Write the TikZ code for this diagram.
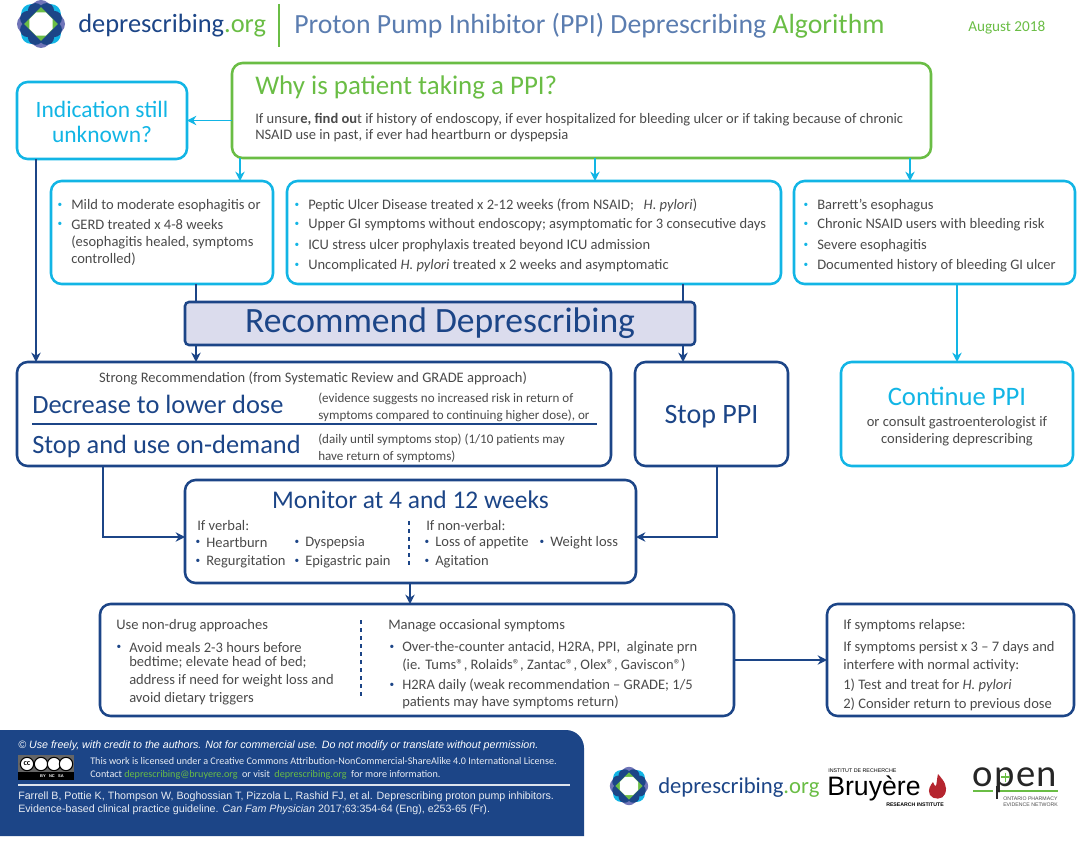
\documentclass[tikz,border=0pt]{standalone}
\usepackage{fontspec}
\setmainfont{Carlito}
\newfontfamily\reffont{Liberation Sans}
\usepackage{xcolor}
\usetikzlibrary{
    arrows.meta,
    positioning
}
\definecolor{navy}{HTML}{1C4587}
\definecolor{sky}{HTML}{12B5E5}
\definecolor{leaf}{HTML}{6ABD45}
\definecolor{ink}{HTML}{4A4A4A}
\definecolor{slate}{HTML}{5B7DB0}
\definecolor{lilac}{HTML}{6F74B8}
\definecolor{flame}{HTML}{B5252F}
\tikzset{boxsize/.style 2 args={minimum width=#1*0.75pt, minimum height=#2*0.75pt}}
\tikzstyle{box} = [
    draw,
    rounded corners=8pt,
    outer sep=0pt,
    inner sep=0pt,
    line width=1.9pt
]
\tikzstyle{skybox} = [box, draw=sky]
\tikzstyle{navybox} = [box, draw=navy]
\tikzstyle{leafbox} = [box, draw=leaf]
\tikzstyle{txt} = [
    anchor=west,
    inner sep=0pt,
    yshift=-1.2pt,
    text=ink,
    font=\fontsize{10.9}{12}\selectfont
]
\tikzstyle{txtc} = [txt, anchor=center]
\tikzstyle{txts} = [txt, font=\fontsize{9.8}{12}\selectfont]
\tikzstyle{dotsky} = [txtc, text=sky, font=\fontsize{7}{8}\selectfont]
\tikzstyle{dotnavy} = [txtc, text=navy, font=\fontsize{7}{8}\selectfont]
\tikzstyle{bigtxt} = [txt, text=navy, font=\fontsize{19.8}{24}\selectfont]
\tikzstyle{arrowsky} = [
    line width=1pt,
    draw=sky,
    ->,
    >={Stealth[length=7pt,width=7pt]}
]
\tikzstyle{arrownavy} = [arrowsky, draw=navy]
\tikzstyle{plainnavy} = [line width=1pt, draw=navy]
\newcommand{\logomark}[3]{%
\begin{scope}[shift={(#1,#2)},x=#3*0.75pt,y=#3*0.75pt]
\foreach \a in {45,135,225,315} \fill[sky] (\a:14) circle (10);
\foreach \a in {0,90,180,270} \fill[lilac] (\a:14) circle (10);
\foreach \a in {22.5,67.5,...,360} \fill[navy] (\a:14.5) circle (7.5);
\fill[leaf, rotate=45] (-12,-12) rectangle (12,12);
\fill[white] (22.5:12.5) -- (67.5:12.5) -- (112.5:12.5) -- (157.5:12.5) -- (202.5:12.5) -- (247.5:12.5) -- (292.5:12.5) -- (337.5:12.5) -- cycle;
\end{scope}}
\begin{document}
\begin{tikzpicture}[x=0.75pt,y=-0.75pt]
\useasboundingbox (0,0) rectangle (1090,845);
% header
\logomark{41}{24}{1}
\node[txt, text=navy, font=\fontsize{19.8}{24}\selectfont] (brand) at (78,24) {deprescribing\textcolor{leaf}{.org}};
\draw[line width=1pt, leaf] (279,4) -- (279,47);
\node[txt, text=slate, font=\fontsize{20.8}{24}\selectfont] (title) at (294,24) {Proton Pump Inhibitor (PPI) Deprescribing \textcolor{leaf}{Algorithm}};
\node[txt, text=leaf, font=\fontsize{11.4}{12}\selectfont] (date) at (968,26) {August 2018};
% boxes
\node[leafbox, boxsize={699}{95}] (why) at (581.5,110.5) {};
\node[skybox, boxsize={170}{77}] (unknown) at (102,120.5) {};
\node[skybox, boxsize={222}{103}] (mild) at (162,232.5) {};
\node[skybox, boxsize={494}{103}] (ulcer) at (534,232.5) {};
\node[skybox, boxsize={281}{103}] (barrett) at (934.5,232.5) {};
\node[navybox, fill=lilac!25, rounded corners=3pt, boxsize={510}{43}] (recommend) at (440,323.5) {};
\node[navybox, boxsize={594}{104}] (strong) at (314,414) {};
\node[navybox, boxsize={153}{104}] (stop) at (711.5,414) {};
\node[skybox, boxsize={232}{104}] (continue) at (957,414) {};
\node[navybox, boxsize={451}{103}] (monitor) at (410.5,531.5) {};
\node[navybox, boxsize={634}{112}] (manage) at (417,660) {};
\node[navybox, boxsize={247}{112}] (relapse) at (950.5,660) {};
% drop points
\coordinate (dropa) at (240,170);
\coordinate (dropb) at (595,170);
\coordinate (dropc) at (910,170);
\coordinate (dropd) at (36,170);
\coordinate (drope) at (196,300);
\coordinate (dropf) at (683,300);
\coordinate (dropg) at (103,470);
\coordinate (droph) at (717,470);
\coordinate (dropi) at (410,590);
\coordinate (rowm) at (160,537);
% connectors
\draw[arrowsky] (why.west |- unknown.west) -- (unknown.east);
\draw[arrowsky] (why.south -| dropa) -- (mild.north -| dropa);
\draw[arrowsky] (why.south -| dropb) -- (ulcer.north -| dropb);
\draw[arrowsky] (why.south -| dropc) -- (barrett.north -| dropc);
\draw[arrownavy] (unknown.south -| dropd) -- (strong.north -| dropd);
\draw[plainnavy] (mild.south -| drope) -- (recommend.north -| drope);
\draw[plainnavy] (ulcer.south -| dropf) -- (recommend.north -| dropf);
\draw[arrownavy] (recommend.south -| drope) -- (strong.north -| drope);
\draw[arrownavy] (recommend.south -| dropf) -- (stop.north -| dropf);
\draw[arrowsky] (barrett.south -| continue.north) -- (continue.north);
\draw[arrownavy] (strong.south -| dropg) |- (monitor.west |- rowm);
\draw[arrownavy] (stop.south -| droph) |- (monitor.east |- rowm);
\draw[arrownavy] (monitor.south -| dropi) -- (manage.north -| dropi);
\draw[arrownavy] (manage.east) -- (relapse.west);
% why
\node[txt, text=leaf, font=\fontsize{20.2}{24}\selectfont] (whyhead) at (255,86) {Why is patient taking a PPI?};
\node[txt] (whya) at (255,118) {If unsur\textbf{e, find ou}t if history of endoscopy, if ever hospitalized for bleeding ulcer or if taking because of chronic};
\node[txt] (whyb) at (255,134) {NSAID use in past, if ever had heartburn or dyspepsia};
\node[txtc, text=sky, font=\fontsize{17.6}{22}\selectfont] (unknowna) at (102,108) {Indication still};
\node[txtc, text=sky, font=\fontsize{17.6}{22}\selectfont] (unknownb) at (102,133) {unknown?};
% mild
\node[dotsky] (dota) at (60,204) {•};
\node[txt] (milda) at (71,204) {Mild to moderate esophagitis or};
\node[dotsky] (dotb) at (60,223) {•};
\node[txt] (mildb) at (71,223) {GERD treated x 4-8 weeks};
\node[txt] (mildc) at (71,241) {(esophagitis healed, symptoms};
\node[txt] (mildd) at (71,258) {controlled)};
% ulcer
\foreach \n/\ya in {c/204,d/223,e/244,f/264} \node[dotsky] (dot\n) at (297,\ya) {•};
\node[txt] (ulcera) at (308,204) {Peptic Ulcer Disease treated x 2-12 weeks (from NSAID; \ \ \textit{H. pylori})};
\node[txt] (ulcerb) at (308,223) {Upper GI symptoms without endoscopy; asymptomatic for 3 consecutive days};
\node[txt] (ulcerc) at (308,244) {ICU stress ulcer prophylaxis treated beyond ICU admission};
\node[txt] (ulcerd) at (308,264) {Uncomplicated \textit{H. pylori} treated x 2 weeks and asymptomatic};
% barrett
\foreach \n/\ya in {g/204,h/223,i/244,j/264} \node[dotsky] (dot\n) at (806,\ya) {•};
\node[txt] (barretta) at (817,204) {Barrett’s esophagus};
\node[txt] (barrettb) at (817,223) {Chronic NSAID users with bleeding risk};
\node[txt] (barrettc) at (817,244) {Severe esophagitis};
\node[txt] (barrettd) at (817,264) {Documented history of bleeding GI ulcer};
% recommend
\node[txtc, text=navy, font=\fontsize{26.7}{30}\selectfont] (recommendtxt) at (440,322) {Recommend Deprescribing};
% strong
\node[txtc] (stronghead) at (313,377) {Strong Recommendation (from Systematic Review and GRADE approach)};
\node[bigtxt] (decrease) at (32,403) {Decrease to lower dose};
\node[txts] (decreasea) at (318,397) {(evidence suggests no increased risk in return of};
\node[txts] (decreaseb) at (318,414) {symptoms compared to continuing higher dose), or};
\draw[plainnavy] (32,424) -- (597,424);
\node[bigtxt] (ondemand) at (32,445) {Stop and use on-demand};
\node[txts] (ondemanda) at (318,438) {(daily until symptoms stop) (1/10 patients may};
\node[txts] (ondemandb) at (318,455) {have return of symptoms)};
\node[txtc, text=navy, font=\fontsize{21}{25}\selectfont] (stoptxt) at (711.5,415) {Stop PPI};
% continue
\node[txtc, text=sky, font=\fontsize{20}{24}\selectfont] (continuetxt) at (957,395) {Continue PPI};
\node[txtc] (continuea) at (957,421) {or consult gastroenterologist if};
\node[txtc] (continueb) at (957,438) {considering deprescribing};
% monitor
\node[txtc, text=navy, font=\fontsize{19.1}{24}\selectfont] (monitortxt) at (410.5,498) {Monitor at 4 and 12 weeks};
\node[txt] (verbal) at (197,524) {If verbal:};
\node[dotnavy] (dotk) at (198,541) {•};
\node[txt] (heartburn) at (206,541) {Heartburn};
\node[dotnavy] (dotl) at (297,541) {•};
\node[txt] (dyspepsia) at (305,541) {Dyspepsia};
\node[dotnavy] (dotm) at (198,560) {•};
\node[txt] (regurg) at (206,560) {Regurgitation};
\node[dotnavy] (dotn) at (297,560) {•};
\node[txt] (epigastric) at (305,560) {Epigastric pain};
\draw[plainnavy, dashed] (409,521) -- (409,568);
\node[txt] (nonverbal) at (426,524) {If non-verbal:};
\node[dotnavy] (doto) at (427,541) {•};
\node[txt] (appetite) at (435,541) {Loss of appetite};
\node[dotnavy] (dotp) at (542,541) {•};
\node[txt] (weight) at (550,541) {Weight loss};
\node[dotnavy] (dotq) at (427,560) {•};
\node[txt] (agitation) at (435,560) {Agitation};
% manage
\node[txt] (nondrug) at (116,624) {Use non-drug approaches};
\node[dotnavy] (dotr) at (119,646) {•};
\node[txt] (nondruga) at (129,646) {Avoid meals 2-3 hours before};
\node[txt] (nondrugb) at (129,661) {bedtime; elevate head of bed;};
\node[txt] (nondrugc) at (129,679) {address if need for weight loss and};
\node[txt] (nondrugd) at (129,697) {avoid dietary triggers};
\draw[plainnavy, dashed] (361,620) -- (361,698);
\node[txt] (occasional) at (388,624) {Manage occasional symptoms};
\node[dotnavy] (dots) at (392,646) {•};
\node[txt] (occasionala) at (402,646) {Over-the-counter antacid, H2RA, PPI, \ alginate prn};
\node[txt] (occasionalb) at (402,664) {(ie. Tums®, Rolaids®, Zantac®, Olex®, Gaviscon®)};
\node[dotnavy] (dott) at (392,684) {•};
\node[txt] (occasionalc) at (402,684) {H2RA daily (weak recommendation – GRADE; 1/5};
\node[txt] (occasionald) at (402,701) {patients may have symptoms return)};
% relapse
\node[txt] (relapsehead) at (843,624) {If symptoms relapse:};
\node[txt] (relapsea) at (843,646) {If symptoms persist x 3 – 7 days and};
\node[txt] (relapseb) at (843,664) {interfere with normal activity:};
\node[txt] (relapsec) at (843,684) {1) Test and treat for \textit{H. pylori}};
\node[txt] (relapsed) at (843,703) {2) Consider return to previous dose};
% footer
\fill[navy] (0,730) -- (566,730) arc[start angle=90, end angle=0, radius=18*0.75pt] -- (584,836) -- (0,836) -- cycle;
\node[txt, text=white, font=\reffont\itshape\fontsize{8}{10}\selectfont] (useline) at (18,744) {© Use freely, with credit to the authors. Not for commercial use. Do not modify or translate without permission.};
\fill[black!60] (18,755) rectangle (74,780);
\fill[black] (18,772) rectangle (74,780);
\foreach \n/\xa/\lab in {cca/27/cc,ccb/41/,ccc/54/,ccd/66/} {
  \node[circle, draw=black, fill=white, line width=0.8pt, minimum size=10pt, inner sep=0pt, font=\fontsize{6}{6}\selectfont\bfseries, text=black] (\n) at (\xa,764) {\lab};
}
\node[txtc, text=white, yshift=1.2pt, font=\reffont\bfseries\fontsize{3}{3}\selectfont] (cclabel) at (52,776) {BY \ \ NC \ \ SA};
\node[txt, text=white!90!navy, font=\fontsize{7.6}{9}\selectfont] (licensea) at (90,759) {This work is licensed under a Creative Commons Attribution-NonCommercial-ShareAlike 4.0 International License.};
\node[txt, text=white!90!navy, font=\fontsize{7.6}{9}\selectfont] (licenseb) at (90,773) {Contact \textcolor{leaf}{deprescribing@bruyere.org} \ or visit \ \textcolor{leaf}{deprescribing.org} \ for more information.};
\draw[line width=0.8pt, white!85!navy] (18,785) -- (570,785);
\node[txt, text=white!90!navy, font=\reffont\fontsize{8}{10}\selectfont] (citea) at (18,795) {Farrell B, Pottie K, Thompson W, Boghossian T, Pizzola L, Rashid FJ, et al. Deprescribing proton pump inhibitors.};
\node[txt, text=white!90!navy, font=\reffont\fontsize{8}{10}\selectfont] (citeb) at (18,808) {Evidence-based clinical practice guideline. \textit{Can Fam Physician} 2017;63:354-64 (Eng), e253-65 (Fr).};
% logos
\logomark{629}{786}{0.8}
\node[txt, text=navy, font=\fontsize{17}{20}\selectfont] (brandb) at (658,786) {deprescribing\textcolor{leaf}{.org}};
\node[txt, text=black, font=\reffont\fontsize{4}{4}\selectfont] (instfr) at (828,769) {INSTITUT DE RECHERCHE};
\node[txt, text=black, font=\reffont\fontsize{20}{22}\selectfont] (bruyere) at (827,787) {Bruyère};
\node[txt, text=black, font=\reffont\bfseries\fontsize{3.9}{4}\selectfont] (insten) at (886,803) {RESEARCH INSTITUTE};
\fill[flame] (938,774) .. controls (944,781) and (948,786) .. (945,794) .. controls (943,800) and (933,800) .. (930,795) .. controls (927,789) and (931,785) .. (933,782) .. controls (934,785) and (935,786) .. (936,786) .. controls (937,782) and (937,778) .. (938,774) -- cycle;
\node[anchor=base west, inner sep=0pt, text=black!85, font=\fontsize{29}{30}\selectfont] (opentxt) at (972,786) {o\hspace{1.5pt}p\hspace{1pt}e\hspace{1pt}n};
\draw[line width=1pt, leaf] (973,791) -- (993,791);
\draw[line width=1pt, leaf] (1000,791) -- (1058,791);
\draw[line width=1.2pt, black!85] (997,786) -- (997,799);
\draw[line width=1.2pt, leaf] (1001,777) -- (1010,777) (1005.5,772.5) -- (1005.5,781.5);
\node[txt, text=black!70, font=\reffont\fontsize{3.9}{4}\selectfont] (opena) at (1003,797) {ONTARIO PHARMACY};
\node[txt, text=black!70, font=\reffont\fontsize{3.9}{4}\selectfont] (openb) at (1003,803) {EVIDENCE NETWORK};
\end{tikzpicture}
\end{document}
